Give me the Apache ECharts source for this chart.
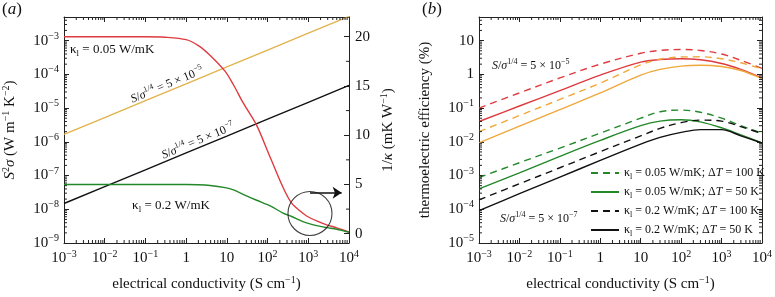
<!DOCTYPE html>
<html><head><meta charset="utf-8">
<script src="https://cdn.jsdelivr.net/npm/echarts@6/dist/echarts.min.js"></script>
<style>html,body{margin:0;padding:0;background:#fff}#c{width:775px;height:297px}</style>
</head><body><div id="c"></div>
<script>
// ---------------- data ----------------
// panel (a): power factor lines (left log axis)
const sigmaDecades = [1e-3, 1e-2, 1e-1, 1, 10, 100, 1e3, 1e4];
const powerFactorS5e5 = [1.66e-6, 5.2e-6, 1.66e-5, 5.2e-5, 1.66e-4, 5.2e-4, 1.66e-3, 5.2e-3];
const powerFactorS5e7 = [1.48e-8, 4.7e-8, 1.48e-7, 4.7e-7, 1.48e-6, 4.7e-6, 1.48e-5, 4.7e-5];
// panel (a): inverse thermal conductivity (right linear axis)
const sigmaKappa = [1e-3, 1e-2, 0.1, 0.3, 1, 2, 3.9, 9, 14.6, 25, 54, 100, 126, 240, 390, 630, 910, 1600, 2830, 5000, 1e4];
const invKappa005 = [20.0, 20.0, 20.0, 19.95, 19.7, 19.1, 18.1, 16.5, 15.1, 13.3, 11.0, 8.4, 7.4, 4.7, 3.1, 2.3, 1.8, 1.3, 0.9, 0.6, 0.18];
const invKappa02 = [5.0, 5.0, 5.0, 5.0, 5.0, 4.98, 4.9, 4.68, 4.45, 4.0, 3.4, 2.95, 2.75, 2.1, 1.75, 1.35, 1.1, 0.82, 0.62, 0.45, 0.15];
// circle + arrow annotation anchor (sigma, 1/kappa)
const circleAt = [1100, 2.06];
const arrowFrom = [1100, 4.16];
const arrowTo = [6600, 4.16];
// panel (b): thermoelectric efficiency (%)
const sigmaB = [1e-3, 1e-2, 0.1, 1, 10, 30, 100, 300, 1000, 3000, 1e4];
const effRedDash = [0.1, 0.28, 0.78, 2.0, 4.2, 5.1, 5.45, 5.1, 4.0, 2.6, 1.5];
const effRedSolid = [0.04, 0.115, 0.33, 0.95, 2.3, 2.75, 2.9, 2.7, 2.1, 1.4, 0.78];
const effOrangeDash = [0.02, 0.06, 0.18, 0.55, 1.9, 2.8, 3.25, 3.3, 2.9, 2.2, 1.45];
const effOrangeSolid = [0.0093, 0.029, 0.09, 0.28, 0.95, 1.4, 1.75, 1.85, 1.7, 1.3, 0.75];
const effGreenDash = [8.7e-4, 2.4e-3, 6.5e-3, 0.018, 0.05, 0.078, 0.087, 0.075, 0.05, 0.03, 0.018];
const effGreenSolid = [4e-4, 1.2e-3, 3.7e-3, 0.011, 0.03, 0.041, 0.045, 0.039, 0.026, 0.016, 0.0093];
const effBlackDash = [1.9e-4, 5.7e-4, 1.7e-3, 5.1e-3, 0.015, 0.025, 0.037, 0.044, 0.041, 0.028, 0.0175];
const effBlackSolid = [9.1e-5, 2.9e-4, 9e-4, 2.8e-3, 8.5e-3, 0.0135, 0.019, 0.023, 0.023, 0.015, 0.0092];
// tick values
const rightTicksA = [0, 5, 10, 15, 20];
const rightMinorA = [2.5, 7.5, 12.5, 17.5];
const minorMult = [2, 3, 4, 5, 6, 7, 8, 9];
const xDecades = [-3, -2, -1, 0, 1, 2, 3];
const yDecadesA = [-9, -8, -7, -6, -5, -4, -3];
const yDecadesB = [-5, -4, -3, -2, -1, 0, 1];

// ---------------- helpers ----------------
const FONT = 'Liberation Serif';
const INK = '#111';
const RED = '#de3b40', GOLD = '#e2b24c', ORANGE = '#f0a83a', GREEN = '#23882a', BLACK = '#111';

function rich(size) {
  const s = Math.round(size * 0.68);
  return {
    t: {fontFamily: FONT, fontSize: size, lineHeight: size + 4, color: INK},
    i: {fontFamily: FONT, fontSize: size, fontStyle: 'italic', lineHeight: size + 4, color: INK},
    u: {fontFamily: FONT, fontSize: s, lineHeight: s, verticalAlign: 'top', color: INK},
    d: {fontFamily: FONT, fontSize: s, lineHeight: s, verticalAlign: 'bottom', color: INK}
  };
}
function logFmt(v) {
  const L = Math.log10(v), e = Math.round(L);
  if (Math.abs(L - e) > 1e-6) return '';
  if (e === 0) return '{t|1}';
  if (e === 1) return '{t|10}';
  return '{t|10}{u|' + (e < 0 ? '\u2212' + (-e) : e) + '}';
}
const pairs = (xs, ys) => xs.map((x, i) => [x, ys[i]]);
function minorList(decades, maxVal) {
  const out = [];
  decades.forEach(d => minorMult.forEach(m => { const v = m * Math.pow(10, d); if (v < maxVal) out.push(v); }));
  return out;
}
function seg(x1, y1, x2, y2) {
  return {type: 'line', shape: {x1, y1, x2, y2}, style: {stroke: '#222', lineWidth: 1}};
}
function tickSeries(xi, yi, pts, dir, sides, len) {
  return {
    type: 'custom', xAxisIndex: xi, yAxisIndex: yi, silent: true, z: 6, clip: false,
    data: pts,
    renderItem(params, api) {
      const cs = params.coordSys;
      const p = api.coord([api.value(0), api.value(1)]);
      const ch = [];
      if (dir === 'x') {
        if (sides.indexOf('b') >= 0) ch.push(seg(p[0], cs.y + cs.height, p[0], cs.y + cs.height - len));
        if (sides.indexOf('t') >= 0) ch.push(seg(p[0], cs.y, p[0], cs.y + len));
      } else {
        if (sides.indexOf('l') >= 0) ch.push(seg(cs.x, p[1], cs.x + len, p[1]));
        if (sides.indexOf('r') >= 0) ch.push(seg(cs.x + cs.width, p[1], cs.x + cs.width - len, p[1]));
      }
      return {type: 'group', children: ch};
    }
  };
}
const axisLine = {show: true, onZero: false, lineStyle: {color: '#222', width: 1}};
const majorTick = {show: true, inside: true, length: 5, lineStyle: {color: '#222'}};

function logX(grid, pos, labels) {
  return {
    type: 'log', logBase: 10, gridIndex: grid, position: pos, min: 1e-3, max: 1e4, interval: 1, splitNumber: 7,
    axisLine, axisTick: majorTick, splitLine: {show: false},
    axisLabel: labels ? {show: true, formatter: logFmt, rich: rich(15), margin: 6} : {show: false},
    name: labels ? '{t|electrical conductivity (S cm}{u|\u22121}{t|)}' : '',
    nameLocation: 'middle', nameGap: 32, nameTextStyle: {rich: rich(15)}
  };
}

const xMinor = minorList(xDecades, 1e4);
const yMinorA = minorList(yDecadesA, 5e-3);
const yMinorB = minorList(yDecadesB, 50);

const lineB = (name, data, color, dashed) => ({
  type: 'line', name, xAxisIndex: 2, yAxisIndex: 3, data: pairs(sigmaB, data), smooth: 0.35,
  symbol: 'none', showSymbol: false, z: 3,
  lineStyle: {color, width: 1.4, type: dashed ? [7, 5] : 'solid'}, itemStyle: {color}
});

const legendText = {
  gd: '{t|\u03ba}{d|l}{t| = 0.05 W/mK; \u0394}{i|T}{t| = 100 K}',
  gs: '{t|\u03ba}{d|l}{t| = 0.05 W/mK; \u0394}{i|T}{t| = 50 K}',
  bd: '{t|\u03ba}{d|l}{t| = 0.2 W/mK; \u0394}{i|T}{t| = 100 K}',
  bs: '{t|\u03ba}{d|l}{t| = 0.2 W/mK; \u0394}{i|T}{t| = 50 K}'
};
function gtext(x, y, text, size, align, rotDeg) {
  return {
    type: 'text', x, y, rotation: (rotDeg || 0) * Math.PI / 180, z: 10, silent: true,
    style: {text, rich: rich(size), fontFamily: FONT, fontSize: size, fill: INK,
            align: align || 'left', verticalAlign: 'middle', textAlign: align || 'left', textVerticalAlign: 'middle'}
  };
}
const ratioHigh = '{i|S}{t|/}{i|\u03c3}{u|1/4}{t| = 5 \u00d7 10}{u|\u22125}';
const ratioLow = '{i|S}{t|/}{i|\u03c3}{u|1/4}{t| = 5 \u00d7 10}{u|\u22127}';

const option = {
  animation: false,
  backgroundColor: '#fff',
  grid: [
    {left: 64, top: 17, width: 285, height: 230},
    {left: 479, top: 17, width: 284, height: 230}
  ],
  xAxis: [logX(0, 'bottom', true), logX(0, 'top', false), logX(1, 'bottom', true), logX(1, 'top', false)],
  yAxis: [
    {type: 'log', logBase: 10, gridIndex: 0, position: 'left', min: 1e-9, max: 5e-3, interval: 1,
     axisLine, axisTick: majorTick, splitLine: {show: false},
     axisLabel: {formatter: logFmt, rich: rich(15), margin: 5},
     name: '{i|S}{u|2}{i|\u03c3}{t| (W m}{u|\u22121}{t| K}{u|\u22122}{t|)}',
     nameLocation: 'middle', nameGap: 44, nameRotate: 90, nameTextStyle: {rich: rich(15)}},
    {type: 'value', gridIndex: 0, position: 'right', min: -0.94, max: 22,
     axisLine, splitLine: {show: false},
     axisTick: Object.assign({}, majorTick, {customValues: rightTicksA}),
     axisLabel: {customValues: rightTicksA, formatter: v => '{t|' + v + '}', rich: rich(15), margin: 6},
     name: '{t|1/}{i|\u03ba}{t| (mK W}{u|\u22121}{t|)}',
     nameLocation: 'middle', nameGap: 30, nameRotate: 90, nameTextStyle: {rich: rich(15)}},
    {type: 'log', logBase: 10, gridIndex: 1, position: 'left', min: 1e-5, max: 50, interval: 1,
     axisLine, axisTick: majorTick, splitLine: {show: false},
     axisLabel: {formatter: logFmt, rich: rich(15), margin: 5},
     name: '{t|thermoelectric efficiency (%)}',
     nameLocation: 'middle', nameGap: 44, nameRotate: 90, nameTextStyle: {rich: rich(15)}},
    {type: 'log', logBase: 10, gridIndex: 1, position: 'right', min: 1e-5, max: 50, interval: 1,
     axisLine, axisTick: majorTick, splitLine: {show: false}, axisLabel: {show: false}}
  ],
  legend: {
    data: ['gd', 'gs', 'bd', 'bs'], orient: 'vertical', left: 590, top: 167, padding: 0,
    itemWidth: 28, itemHeight: 14, itemGap: 5,
    itemStyle: {opacity: 0, borderWidth: 0},
    formatter: n => legendText[n],
    textStyle: {fontFamily: FONT, fontSize: 12, color: INK, rich: rich(12)}
  },
  series: [
    // panel (a)
    {type: 'line', name: 'pf5e5', xAxisIndex: 0, yAxisIndex: 0, data: pairs(sigmaDecades, powerFactorS5e5),
     symbol: 'none', lineStyle: {color: GOLD, width: 1.4}, z: 3},
    {type: 'line', name: 'pf5e7', xAxisIndex: 0, yAxisIndex: 0, data: pairs(sigmaDecades, powerFactorS5e7),
     symbol: 'none', lineStyle: {color: BLACK, width: 1.4}, z: 3},
    {type: 'line', name: 'ik005', xAxisIndex: 0, yAxisIndex: 1, data: pairs(sigmaKappa, invKappa005), smooth: 0.3,
     symbol: 'none', lineStyle: {color: RED, width: 1.4}, z: 3},
    {type: 'line', name: 'ik02', xAxisIndex: 0, yAxisIndex: 1, data: pairs(sigmaKappa, invKappa02), smooth: 0.3,
     symbol: 'none', lineStyle: {color: GREEN, width: 1.4}, z: 3},
    {type: 'scatter', name: 'circle', xAxisIndex: 0, yAxisIndex: 1, data: [circleAt], symbol: 'circle', symbolSize: 44,
     silent: true, z: 4, itemStyle: {color: 'rgba(0,0,0,0)', borderColor: '#111', borderWidth: 1.1}},
    {type: 'line', name: 'arrow', xAxisIndex: 0, yAxisIndex: 1, data: [], symbol: 'none', z: 4,
     itemStyle: {color: '#111'}, lineStyle: {color: '#111'},
     markLine: {silent: true, symbol: ['none', 'arrow'], symbolSize: 9, label: {show: false},
       itemStyle: {color: '#111'},
       lineStyle: {color: '#111', width: 1.6, type: 'solid'},
       emphasis: {disabled: true},
       data: [[{coord: arrowFrom}, {coord: arrowTo}]]}},
    // panel (b)
    lineB('rd', effRedDash, RED, true),
    lineB('rs', effRedSolid, RED, false),
    lineB('od', effOrangeDash, ORANGE, true),
    lineB('os', effOrangeSolid, ORANGE, false),
    lineB('gd', effGreenDash, GREEN, true),
    lineB('gs', effGreenSolid, GREEN, false),
    lineB('bd', effBlackDash, BLACK, true),
    lineB('bs', effBlackSolid, BLACK, false),
    // minor ticks
    tickSeries(0, 0, xMinor.map(v => [v, 1e-6]), 'x', 'bt', 3),
    tickSeries(0, 0, yMinorA.map(v => [1, v]), 'y', 'l', 3),
    tickSeries(0, 1, rightMinorA.map(v => [1, v]), 'y', 'r', 3),
    tickSeries(2, 3, xMinor.map(v => [v, 1]), 'x', 'bt', 3),
    tickSeries(2, 3, yMinorB.map(v => [1, v]), 'y', 'lr', 3)
  ],
  graphic: [
    gtext(12, 10, '{t|(}{i|a}{t|)}', 17, 'center'),
    gtext(432, 10, '{t|(}{i|b}{t|)}', 17, 'center'),
    gtext(70, 50, '{t|\u03ba}{d|l}{t| = 0.05 W/mK}', 13, 'left'),
    gtext(171, 206, '{t|\u03ba}{d|l}{t| = 0.2 W/mK}', 13, 'center'),
    gtext(167, 85, ratioHigh, 12, 'center', 22.5),
    gtext(198, 141, ratioLow, 12, 'center', 22.5),
    gtext(492, 66, ratioHigh, 12, 'left'),
    gtext(500, 219, ratioLow, 12, 'left')
  ]
};
const chart = echarts.init(document.getElementById('c'), null, {renderer: 'canvas'});
chart.setOption(option);
</script>
</body></html>
